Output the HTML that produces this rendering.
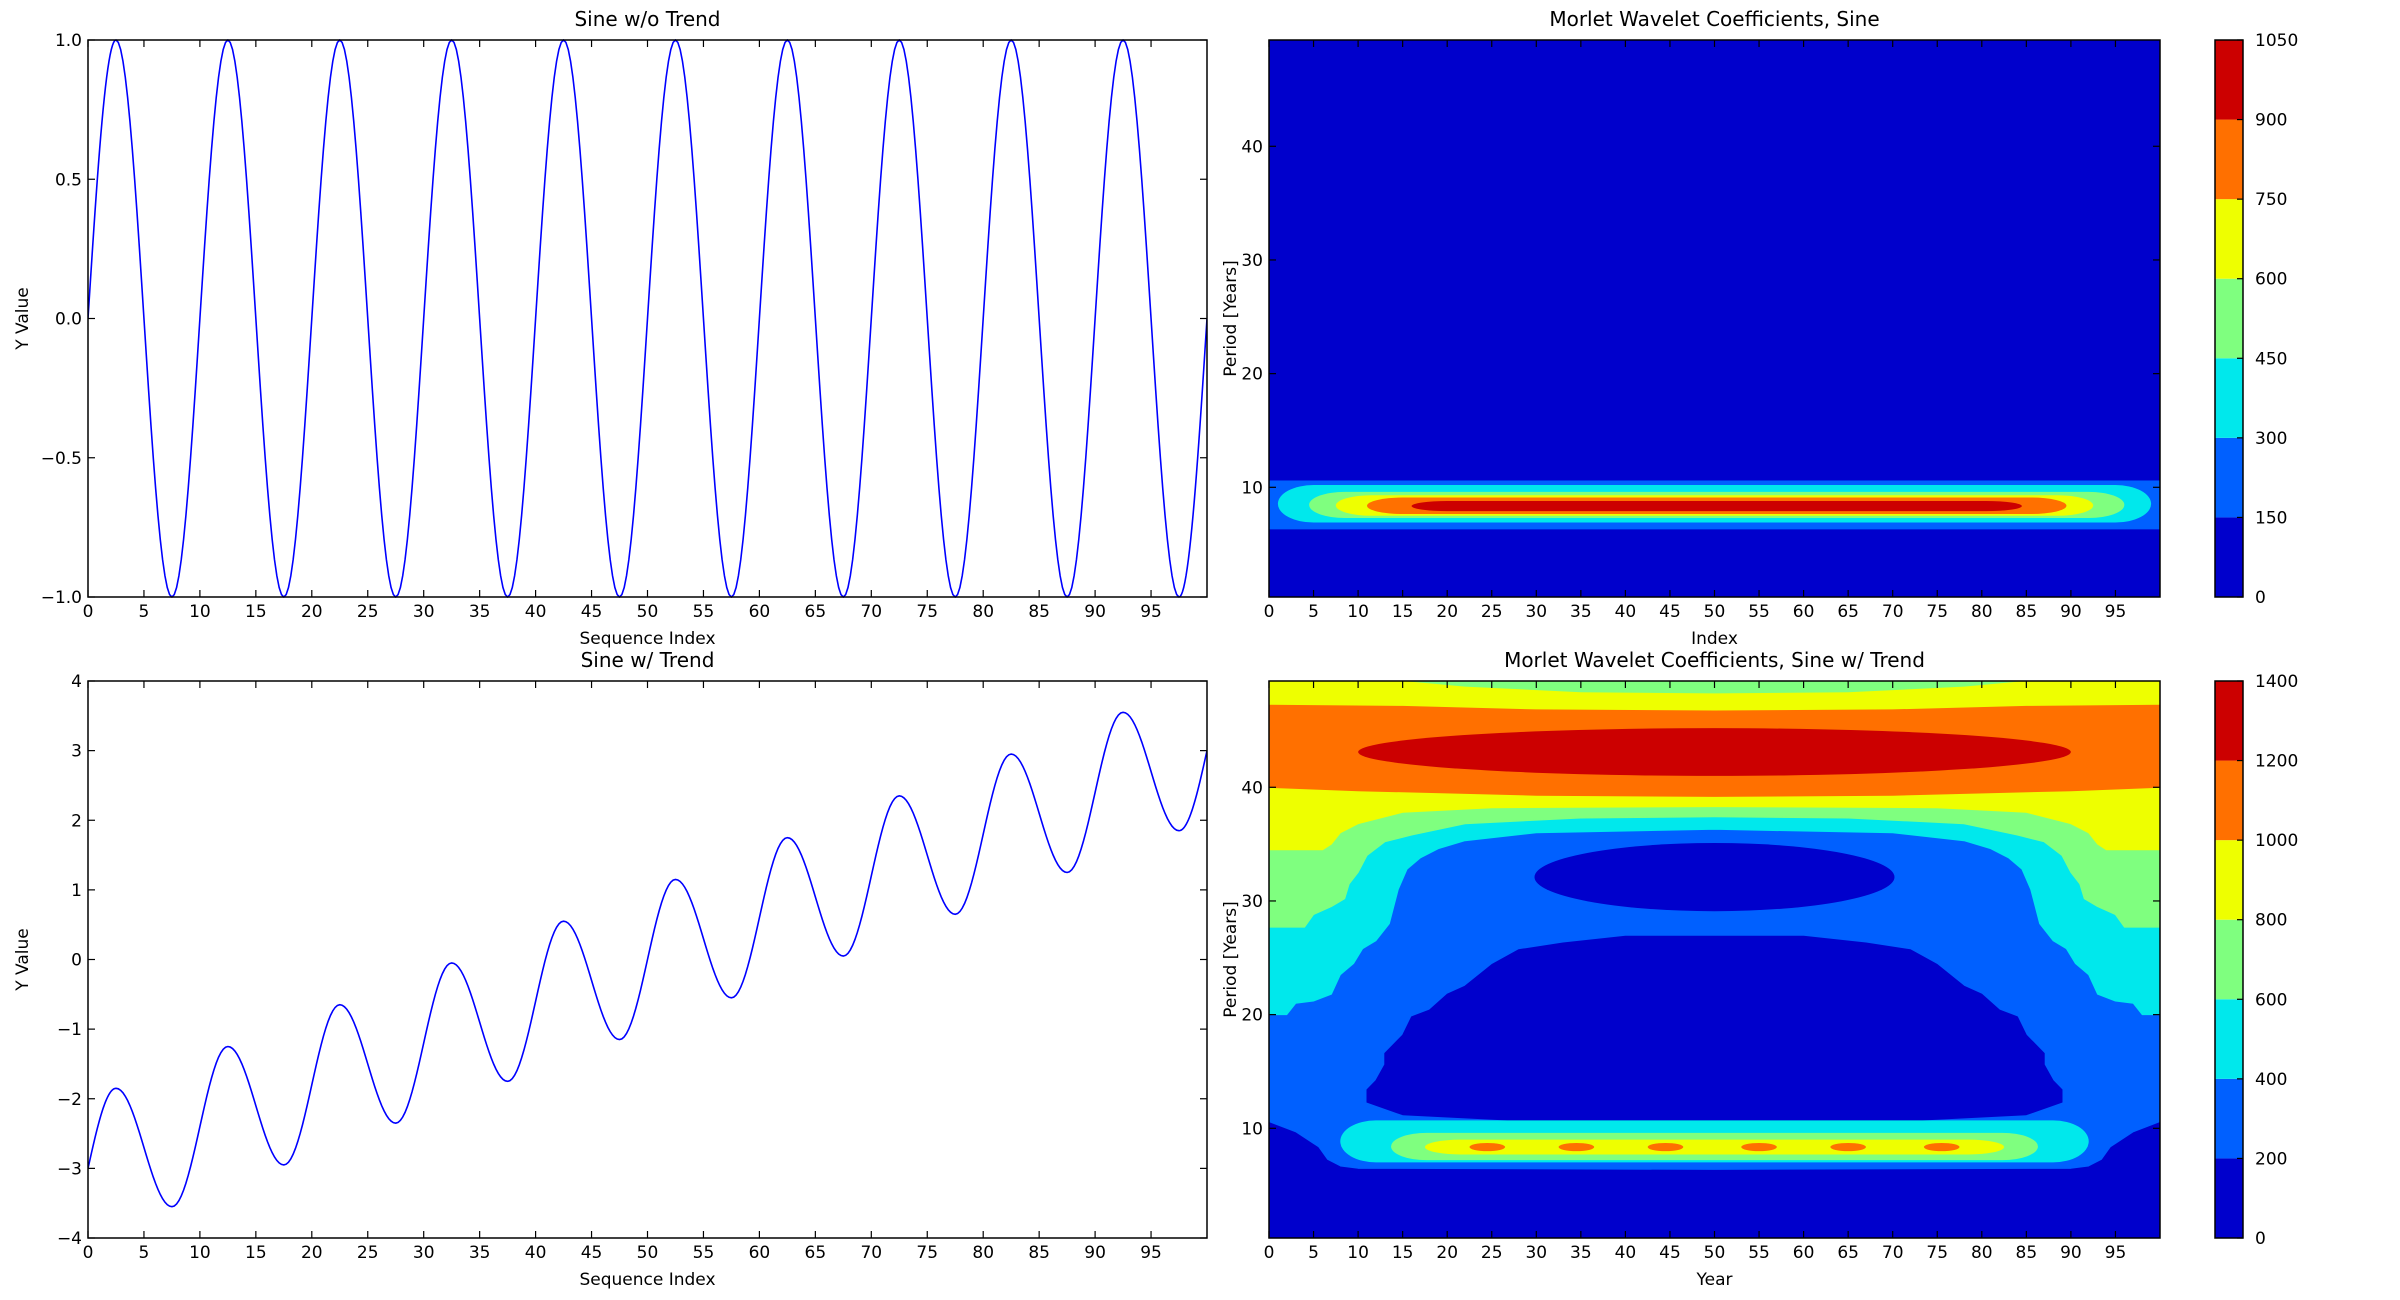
<!DOCTYPE html>
<html><head><meta charset="utf-8">
<style>
html,body{margin:0;padding:0;background:#fff;}
svg{display:block;font-family:"DejaVu Sans","Liberation Sans",sans-serif;}
</style></head>
<body>
<svg id="fig" width="2400" height="1300" viewBox="0 0 2400 1300" xmlns="http://www.w3.org/2000/svg">
<rect width="2400" height="1300" fill="#fff"/>
</svg>
<script>
// ---------- data ----------
const extremaX = [0,2.5,7.5,12.5,17.5,22.5,27.5,32.5,37.5,42.5,47.5,52.5,57.5,62.5,67.5,72.5,77.5,82.5,87.5,92.5,97.5,100];
const sineNoTrend = [0,1,-1,1,-1,1,-1,1,-1,1,-1,1,-1,1,-1,1,-1,1,-1,1,-1,0];
const sineTrend = [-3,-1.85,-3.55,-1.25,-2.95,-0.65,-2.35,-0.05,-1.75,0.55,-1.15,1.15,-0.55,1.75,0.05,2.35,0.65,2.95,1.25,3.55,1.85,3];
const xTicks = [0,5,10,15,20,25,30,35,40,45,50,55,60,65,70,75,80,85,90,95];
const yTicksTop = [-1.0,-0.5,0.0,0.5,1.0];
const yTickLabelsTop = ["\u22121.0","\u22120.5","0.0","0.5","1.0"];
const yTicksBot = [-4,-3,-2,-1,0,1,2,3,4];
const periodTicks = [10,20,30,40];
const cbLevelsTop = [0,150,300,450,600,750,900,1050];
const cbLevelsBot = [0,200,400,600,800,1000,1200,1400];
const jetColors = ["#0000cc","#0060ff","#00e8ec","#7fff7f","#eeff00","#ff7000","#cc0000"];
// top wavelet bands: [x0,x1,p0,p1,level index]
const sineBandX0 = [0,1,4.5,7.5,11,16];
const sineBandX1 = [100,99,96,92.5,89.5,84.5];
const sineBandP0 = [6.3,6.9,7.3,7.5,7.65,7.9];
const sineBandP1 = [10.6,10.2,9.6,9.3,9.1,8.8];
const sineBandLevel = [1,2,3,4,5,6];
// trend wavelet contour boundaries (left half, mirrored)
const cyanBottom = [[0,20],[2,20],[3,21],[5,21.2],[7,21.8],[8,23.5],[9.5,24.5],[10.5,25.8],[12,26.5],[13.5,28],[14.5,31],[15.5,32.8],[17,33.8],[19,34.6],[22,35.3],[30,36],[50,36.3]];
const greenBottom = [[0,27.7],[4,27.7],[5,28.8],[7,29.5],[8.5,30.2],[9,31.5],[10,32.5],[11,34],[13,35.2],[16,35.8],[22,36.8],[35,37.3],[50,37.4]];
const yellowBottom = [[0,34.5],[6,34.5],[7,35],[8,36],[10,36.8],[15,37.8],[25,38.2],[50,38.3]];
const orangeBottom = [[0,40],[10,39.7],[30,39.3],[50,39.2]];
const yellowTopBottom = [[0,47.3],[15,47.2],[30,46.9],[50,46.8]];
const greenLens = [[15,49.4],[22,48.9],[35,48.4],[50,48.3]];
const moundTop = [[11,12.3],[11,13.4],[12,14.2],[13,15.6],[13,16.6],[15,18.2],[16,19.8],[18,20.4],[20,21.8],[22,22.5],[25,24.4],[28,25.7],[33,26.3],[40,26.9],[50,26.9]];
const moundBottom = [[11,12.3],[15,11.2],[30,10.6],[50,10.5]];
const lowBlueTop = [[0,10.5],[3,9.6],[5.5,8.3],[6.5,7.2],[8,6.6],[10,6.4],[50,6.3]];
const redEllipse = [50,43.1,40,2.1];
const darkEllipse = [50,32.1,20.2,3.0];
const trendBandX0 = [8,13.7,17.5];
const trendBandX1 = [92,86.3,82.5];
const trendBandP0 = [7.0,7.2,7.7];
const trendBandP1 = [10.7,9.6,9.0];
const trendBandLevel = [2,3,4];
const spotX = [24.5,34.5,44.5,55,65,75.5];
const spotP = [8.35,8.35,8.35,8.35,8.35,8.35];

// ---------- helpers ----------
const NS="http://www.w3.org/2000/svg";
const svg=document.getElementById('fig');
function mk(tag,attrs,parent){const e=document.createElementNS(NS,tag);for(const k in attrs)e.setAttribute(k,attrs[k]);(parent||svg).appendChild(e);return e;}
function txt(x,y,s,size,anchor,parent,rot){const t=mk('text',{x:x,y:y,'font-size':size,'text-anchor':anchor||'middle',fill:'#000'},parent);if(rot)t.setAttribute('transform','rotate(-90 '+x+' '+y+')');t.textContent=s;return t;}
function lin(d0,d1,p0,p1){return v=>p0+(v-d0)/(d1-d0)*(p1-p0);}

function axesFrame(g,L,R,T,B,sx,sy,xt,xl,yt,yl,tickLabelsY){
  // ticks
  xt.forEach((v,i)=>{const X=sx(v);
    const t1=mk('line',{x1:X,y1:B,x2:X,y2:B-7,stroke:'#000','stroke-width':1.2},g);
    
    mk('line',{x1:X,y1:T,x2:X,y2:T+7,stroke:'#000','stroke-width':1.2},g);
    const l=txt(X,B+20,xl[i],17,'middle',g);
    
  });
  yt.forEach((v,i)=>{const Y=sy(v);
    mk('line',{x1:L,y1:Y,x2:L+7,y2:Y,stroke:'#000','stroke-width':1.2},g);
    mk('line',{x1:R,y1:Y,x2:R-7,y2:Y,stroke:'#000','stroke-width':1.2},g);
    const l=txt(L-6,Y+6,yl[i],17,'end',g);
    
  });
  const f=mk('rect',{x:L,y:T,width:R-L,height:B-T,fill:'none',stroke:'#000','stroke-width':1.5},g);
  
}

function curvePoints(xs,ys,sx,sy){
  const pts=[];const n=24;
  for(let i=0;i<xs.length-1;i++){
    const a=ys[i],b=ys[i+1];
    for(let k=0;k<n;k++){const t=k/n;let f;
      if(i===0)f=Math.sin(Math.PI*t/2);
      else if(i===xs.length-2)f=1-Math.cos(Math.PI*t/2);
      else f=(1-Math.cos(Math.PI*t))/2;
      pts.push(sx(xs[i]+(xs[i+1]-xs[i])*t).toFixed(2)+','+sy(a+(b-a)*f).toFixed(2));}
  }
  pts.push(sx(xs[xs.length-1]).toFixed(2)+','+sy(ys[ys.length-1]).toFixed(2));
  return pts.join(' ');
}

function lineChart(name,L,R,T,B,ymin,ymax,ys,yt,yl,title){
  const g=mk('g',{});
  const sx=lin(0,100,L,R),sy=lin(ymin,ymax,B,T);
  const clip=mk('clipPath',{id:name+'-clip'},g);mk('rect',{x:L,y:T-1,width:R-L,height:B-T+2},clip);
  const pl=mk('polyline',{points:curvePoints(extremaX,ys,sx,sy),fill:'none',stroke:'#0000ff','stroke-width':1.6,'clip-path':'url(#'+name+'-clip)'},g);
  
  axesFrame(g,L,R,T,B,sx,sy,xTicks,xTicks.map(String),yt,yl);
  const t=txt((L+R)/2,T-14,title,20,'middle',g);
  const xl=txt((L+R)/2,B+47,'Sequence Index',17,'middle',g);
  const ylb=txt(L-60,(T+B)/2,'Y Value',17,'middle',g,true);
}

lineChart('sine-no-trend-chart',88,1207,40,597,-1,1,sineNoTrend,yTicksTop,yTickLabelsTop,'Sine w/o Trend');
lineChart('sine-trend-chart',88,1207,681,1238,-4,4,sineTrend,yTicksBot,yTicksBot.map(v=>v<0?'\u2212'+(-v):String(v)),'Sine w/ Trend');

function mirror(half){const r=half.slice();for(let i=half.length-2;i>=0;i--)r.push([100-half[i][0],half[i][1]]);return r;}
function poly(g,pts,sx,sy,color,name){
  const p=mk('polygon',{points:pts.map(q=>sx(q[0]).toFixed(1)+','+sy(q[1]).toFixed(1)).join(' '),fill:color,stroke:color,'stroke-width':1,'stroke-linejoin':'round'},g);
  return p;
}
function band(g,x0,x1,p0,p1,sx,sy,color,name){
  const w=sx(x1)-sx(x0),h=sy(p0)-sy(p1);
  const r=mk('rect',{x:sx(x0),y:sy(p1),width:w,height:h,rx:Math.min(w/2,sx(4)-sx(0)),ry:h/2,fill:color},g);
  
}

function colorbar(g,L,R,T,B,levels){
  const sc=lin(levels[0],levels[levels.length-1],B,T);
  for(let i=0;i<levels.length-1;i++){
    const r=mk('rect',{x:L,y:sc(levels[i+1]),width:R-L,height:sc(levels[i])-sc(levels[i+1]),fill:jetColors[i]},g);
    
  }
  levels.forEach(v=>{const Y=sc(v);
    mk('line',{x1:R,y1:Y,x2:R-6,y2:Y,stroke:'#000','stroke-width':1.2},g);
    const t=txt(R+12,Y+6,String(v),17,'start',g);
  });
  const f=mk('rect',{x:L,y:T,width:R-L,height:B-T,fill:'none',stroke:'#000','stroke-width':1.5},g);
  
}

function waveletAxes(name,T,B,title,xlabel,levels,drawFn){
  const L=1269,R=2160;
  const g=mk('g',{});
  const sx=lin(0,100,L,R),sy=lin(0.35,49.35,B,T);
  const clip=mk('clipPath',{id:name+'-clip'},g);mk('rect',{x:L,y:T,width:R-L,height:B-T},clip);
  const cg=mk('g',{'clip-path':'url(#'+name+'-clip)'},g);
  
  drawFn(cg,sx,sy);
  axesFrame(g,L,R,T,B,sx,sy,xTicks,xTicks.map(String),periodTicks,periodTicks.map(String));
  const t=txt((L+R)/2,T-14,title,20,'middle',g);
  const xl=txt((L+R)/2,B+47,xlabel,17,'middle',g);
  const yl=txt(L-33,(T+B)/2,'Period [Years]',17,'middle',g,true);
  const cb=mk('g',{},g);
  colorbar(cb,2215,2243,T,B,levels);
}

waveletAxes('wavelet-sine-chart',40,597,'Morlet Wavelet Coefficients, Sine','Index',cbLevelsTop,(g,sx,sy)=>{
  const bg=mk('rect',{x:sx(0),y:sy(49.35),width:sx(100)-sx(0),height:sy(0.35)-sy(49.35),fill:jetColors[0]},g);
  
  sineBandX0.forEach((x0,i)=>{
    if(i===0){const r=mk('rect',{x:sx(x0),y:sy(sineBandP1[i]),width:sx(sineBandX1[i])-sx(x0),height:sy(sineBandP0[i])-sy(sineBandP1[i]),fill:jetColors[sineBandLevel[i]]},g);
      }
    else band(g,x0,sineBandX1[i],sineBandP0[i],sineBandP1[i],sx,sy,jetColors[sineBandLevel[i]],'contour-band');
  });
});

waveletAxes('wavelet-trend-chart',681,1238,'Morlet Wavelet Coefficients, Sine w/ Trend','Year',cbLevelsBot,(g,sx,sy)=>{
  const top=49.6,bot=0.2;
  const bg=mk('rect',{x:sx(0),y:sy(top),width:sx(100)-sx(0),height:sy(bot)-sy(top),fill:jetColors[1]},g);
  
  const upper=(half)=>mirror(half).concat([[100,top],[0,top]]);
  poly(g,upper(cyanBottom),sx,sy,jetColors[2],'contour-cyan');
  poly(g,upper(greenBottom),sx,sy,jetColors[3],'contour-green');
  poly(g,upper(yellowBottom),sx,sy,jetColors[4],'contour-yellow');
  poly(g,upper(orangeBottom),sx,sy,jetColors[5],'contour-orange');
  poly(g,upper(yellowTopBottom),sx,sy,jetColors[4],'contour-yellow-top');
  poly(g,mirror(greenLens).concat([[85,top],[15,top]]),sx,sy,jetColors[3],'contour-green-top');
  const re=mk('ellipse',{cx:sx(redEllipse[0]),cy:sy(redEllipse[1]),rx:sx(redEllipse[2])-sx(0),ry:sy(0)-sy(redEllipse[3]),fill:jetColors[6]},g);
  
  const de=mk('ellipse',{cx:sx(darkEllipse[0]),cy:sy(darkEllipse[1]),rx:sx(darkEllipse[2])-sx(0),ry:sy(0)-sy(darkEllipse[3]),fill:jetColors[0]},g);
  
  poly(g,mirror(moundTop).concat(mirror(moundBottom).reverse()),sx,sy,jetColors[0],'contour-dark-mound');
  poly(g,mirror(lowBlueTop).concat([[100,bot],[0,bot]]),sx,sy,jetColors[0],'contour-dark-low');
  trendBandX0.forEach((x0,i)=>band(g,x0,trendBandX1[i],trendBandP0[i],trendBandP1[i],sx,sy,jetColors[trendBandLevel[i]],'contour-band'));
  spotX.forEach((x,i)=>{
    const e=mk('ellipse',{cx:sx(x),cy:sy(spotP[i]),rx:sx(2)-sx(0),ry:sy(0)-sy(0.36),fill:jetColors[5]},g);
    
  });
});
</script>
</body></html>
